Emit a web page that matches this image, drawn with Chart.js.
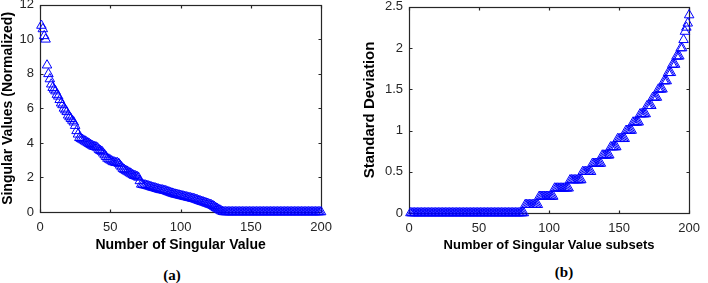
<!DOCTYPE html>
<html>
<head>
<meta charset="utf-8">
<script src="https://cdn.jsdelivr.net/npm/chart.js@4"></script>
<style>
  body { margin: 0; background: #fff; width: 708px; height: 283px; position: relative; overflow: hidden; }
  canvas { position: absolute; }
  #graficaA { left: 0; top: -9px; }
  #graficaB { left: 361px; top: -7px; }
  .etiqueta { position: absolute; font: bold 15px "Liberation Serif", serif; color: #000; transform: translate(-50%, -50%); }
</style>
</head>
<body>
<canvas id="graficaA" width="340" height="263"></canvas>
<canvas id="graficaB" width="347" height="260"></canvas>
<div class="etiqueta" style="left:172px; top:275px;">(a)</div>
<div class="etiqueta" style="left:564px; top:272px;">(b)</div>
<script>
// indices 1..200 (eje x de ambas graficas)
let indices = Array.from({ length: 200 }, (_, i) => i + 1);

// (a) valores singulares normalizados
let valoresSingulares = [
  10.8, 10.6, 10.2, 10.0, 8.5, 8.0, 7.7, 7.4, 7.2, 7.1,
  7.0, 6.8, 6.7, 6.5, 6.3, 6.2, 6.0, 5.9, 5.8, 5.6,
  5.5, 5.4, 5.3, 5.2, 5.0, 4.7, 4.5, 4.3, 4.25, 4.2,
  4.15, 4.1, 4.05, 4.0, 3.95, 3.9, 3.85, 3.8, 3.78, 3.75,
  3.7, 3.6, 3.55, 3.5, 3.4, 3.3, 3.2, 3.1, 3.05, 3.0,
  2.95, 2.9, 2.88, 2.85, 2.85, 2.8, 2.7, 2.6, 2.5, 2.45,
  2.4, 2.35, 2.3, 2.25, 2.2, 2.15, 2.1, 2.08, 2.05, 2.0,
  1.8, 1.6, 1.58, 1.56, 1.55, 1.53, 1.5, 1.48, 1.45, 1.42,
  1.4, 1.38, 1.35, 1.33, 1.3, 1.28, 1.27, 1.25, 1.23, 1.2,
  1.17, 1.14, 1.11, 1.08, 1.05, 1.03, 1.01, 0.99, 0.97, 0.95,
  0.93, 0.91, 0.89, 0.87, 0.85, 0.83, 0.81, 0.79, 0.77, 0.75,
  0.72, 0.69, 0.66, 0.63, 0.6, 0.58, 0.55, 0.52, 0.49, 0.46,
  0.43, 0.4, 0.36, 0.31, 0.25, 0.2, 0.15, 0.1, 0.05, 0.02,
  0, 0, 0, 0, 0, 0, 0, 0, 0, 0,
  0, 0, 0, 0, 0, 0, 0, 0, 0, 0,
  0, 0, 0, 0, 0, 0, 0, 0, 0, 0,
  0, 0, 0, 0, 0, 0, 0, 0, 0, 0,
  0, 0, 0, 0, 0, 0, 0, 0, 0, 0,
  0, 0, 0, 0, 0, 0, 0, 0, 0, 0,
  0, 0, 0, 0, 0, 0, 0, 0, 0, 0
];

// (b) desviacion estandar por subconjunto
let desviacion = [
  0, 0, 0, 0, 0, 0, 0, 0, 0, 0,
  0, 0, 0, 0, 0, 0, 0, 0, 0, 0,
  0, 0, 0, 0, 0, 0, 0, 0, 0, 0,
  0, 0, 0, 0, 0, 0, 0, 0, 0, 0,
  0, 0, 0, 0, 0, 0, 0, 0, 0, 0,
  0, 0, 0, 0, 0, 0, 0, 0, 0, 0,
  0, 0, 0, 0, 0, 0, 0, 0, 0, 0,
  0, 0, 0, 0, 0, 0, 0, 0, 0, 0,
  0, 0, 0.1, 0.1, 0.1, 0.1, 0.1, 0.1, 0.1, 0.1,
  0.1, 0.1, 0.2, 0.2, 0.2, 0.2, 0.2, 0.2, 0.2, 0.2,
  0.2, 0.2, 0.2, 0.3, 0.3, 0.3, 0.3, 0.3, 0.3, 0.3,
  0.3, 0.3, 0.3, 0.3, 0.4, 0.4, 0.4, 0.4, 0.4, 0.4,
  0.4, 0.4, 0.4, 0.5, 0.5, 0.5, 0.5, 0.5, 0.5, 0.5,
  0.6, 0.6, 0.6, 0.6, 0.6, 0.6, 0.6, 0.7, 0.7, 0.7,
  0.7, 0.7, 0.7, 0.8, 0.8, 0.8, 0.8, 0.8, 0.9, 0.9,
  0.9, 0.9, 0.9, 0.9, 1.0, 1.0, 1.0, 1.0, 1.0, 1.1,
  1.1, 1.1, 1.1, 1.1, 1.2, 1.2, 1.2, 1.2, 1.2, 1.3,
  1.3, 1.3, 1.3, 1.4, 1.4, 1.4, 1.4, 1.5, 1.5, 1.5,
  1.5, 1.6, 1.6, 1.6, 1.7, 1.7, 1.7, 1.8, 1.8, 1.8,
  1.9, 1.9, 1.9, 2.0, 2.0, 2.1, 2.2, 2.25, 2.3, 2.4
];

let ticksXA = [0, 50, 100, 150, 200];
let ticksYA = [0, 2, 4, 6, 8, 10, 12];
let ticksXB = [0, 50, 100, 150, 200];
let ticksYB = [0, 0.5, 1, 1.5, 2, 2.5];

let colorEje = '#262626';
let azul = '#0000ff';

// caja estilo matlab con marcas hacia dentro
let cajaMatlab = {
  id: 'cajaMatlab',
  beforeDatasetsDraw(chart) {
    let ctx = chart.ctx;
    let a = chart.chartArea;
    let sx = chart.scales.x, sy = chart.scales.y;
    let l = Math.round(a.left) + 0.5, r = Math.round(a.right) + 0.5;
    let t = Math.round(a.top) + 0.5, b = Math.round(a.bottom) + 0.5;
    ctx.save();
    ctx.strokeStyle = colorEje;
    ctx.lineWidth = 1.2;
    ctx.strokeRect(l, t, r - l, b - t);
    ctx.beginPath();
    sx.ticks.forEach(tk => {
      let px = Math.round(sx.getPixelForValue(tk.value)) + 0.5;
      ctx.moveTo(px, b); ctx.lineTo(px, b - 3);
      ctx.moveTo(px, t); ctx.lineTo(px, t + 3);
    });
    sy.ticks.forEach(tk => {
      let py = Math.round(sy.getPixelForValue(tk.value)) + 0.5;
      ctx.moveTo(l, py); ctx.lineTo(l + 3, py);
      ctx.moveTo(r, py); ctx.lineTo(r - 3, py);
    });
    ctx.stroke();
    ctx.restore();
  }
};

function puntos(valores) {
  return valores.map((v, i) => ({ x: indices[i], y: v }));
}

function crearGrafica(canvas, valores, cfg) {
  return new Chart(canvas, {
    type: 'scatter',
    data: {
      datasets: [{
        data: puntos(valores),
        pointStyle: 'triangle',
        pointRadius: 5.5,
        pointBorderWidth: 1,
        pointBorderColor: azul,
        pointBackgroundColor: 'rgba(0,0,0,0)',
        showLine: false,
        clip: false
      }]
    },
    options: {
      responsive: false,
      animation: false,
      layout: { padding: cfg.padding },
      plugins: { legend: { display: false }, tooltip: { enabled: false } },
      scales: {
        x: {
          type: 'linear', min: 0, max: 200,
          afterBuildTicks: s => { s.ticks = cfg.tx.map(v => ({ value: v })); },
          afterFit: s => { s.height = cfg.altoX; },
          grid: { display: false, drawTicks: false },
          border: { display: false },
          ticks: { padding: 8, color: colorEje, maxRotation: 0, font: { family: 'Liberation Sans', size: 13 } },
          title: {
            display: true, text: cfg.tituloX, color: '#000', padding: 0,
            font: { family: 'Liberation Sans', size: cfg.fTituloX, weight: 'bold' }
          }
        },
        y: {
          type: 'linear', min: 0, max: cfg.maxY,
          afterBuildTicks: s => { s.ticks = cfg.ty.map(v => ({ value: v })); },
          afterFit: s => { s.width = cfg.anchoY; },
          grid: { display: false, drawTicks: false },
          border: { display: false },
          ticks: {
            padding: 6, color: colorEje, font: { family: 'Liberation Sans', size: 13 },
            callback: v => String(v)
          },
          title: {
            display: true, text: cfg.tituloY, color: '#000', padding: 0,
            font: { family: 'Liberation Sans', size: cfg.fTituloY, weight: 'bold' }
          }
        }
      }
    },
    plugins: [cajaMatlab]
  });
}

crearGrafica(document.getElementById('graficaA'), valoresSingulares, {
  tx: ticksXA, ty: ticksYA, maxY: 12,
  tituloX: 'Number of Singular Value', tituloY: 'Singular Values (Normalized)',
  fTituloX: 14, fTituloY: 14, altoX: 42, anchoY: 40,
  padding: { top: 7, right: 10, left: 0, bottom: 0 }
});

crearGrafica(document.getElementById('graficaB'), desviacion, {
  tx: ticksXB, ty: ticksYB, maxY: 2.5,
  tituloX: 'Number of Singular Value subsets', tituloY: 'Standard Deviation',
  fTituloX: 13, fTituloY: 15, altoX: 40, anchoY: 48,
  padding: { top: 7, right: 11, left: 0, bottom: 0 }
});
</script>
</body>
</html>
